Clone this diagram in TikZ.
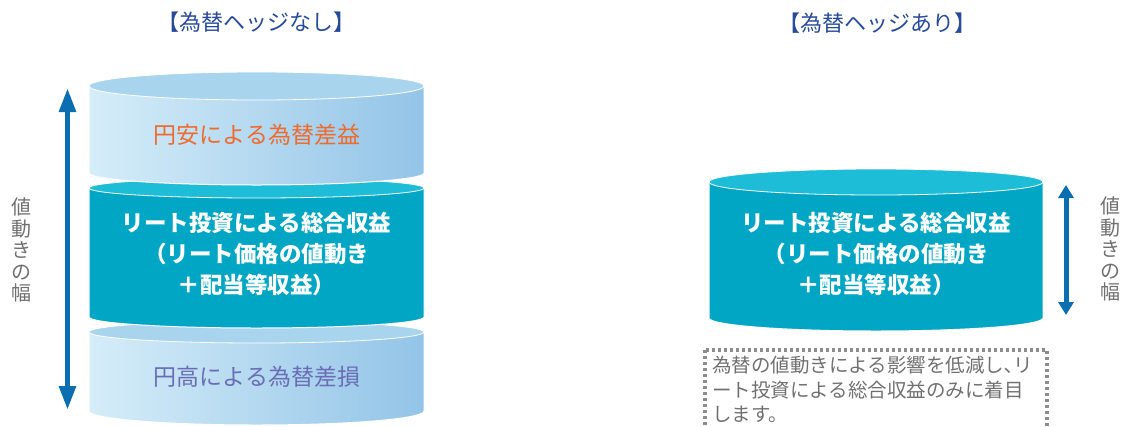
\documentclass[tikz,border=0pt]{standalone}
\usepackage{fontspec}
\setmainfont{Noto Sans CJK JP}
\usetikzlibrary{arrows.meta}
\definecolor{lightL}{HTML}{D5EDF9}
\definecolor{lightR}{HTML}{93C4E7}
\definecolor{lightTop}{HTML}{A9D4EE}
\definecolor{tealBody}{HTML}{00A6C4}
\definecolor{tealTop}{HTML}{1DBDD7}
\definecolor{gainC}{HTML}{EE6A2E}
\definecolor{lossC}{HTML}{6A6DB5}
\definecolor{titleC}{HTML}{274A9B}
\definecolor{arrC}{HTML}{0A6EB0}
\definecolor{grayT}{HTML}{707070}
\definecolor{dotC}{HTML}{8C8C8C}
\newcommand\mycyl[8]{%
  \path[#7,draw=white,line width=1pt] ({#1-#2},#3) -- ({#1-#2},#5)
    arc[start angle=180,end angle=360,x radius=#2pt,y radius=#6pt] -- ({#1+#2},#3) -- cycle;
  \path[fill=#8,draw=white,line width=0.8pt] (#1,#3) ellipse[x radius=#2pt,y radius=#4pt];
}
\begin{document}
\begin{tikzpicture}[x=1pt,y=-1pt,
  title/.style={text=titleC,font=\fontsize{22}{25}\selectfont,inner sep=0pt},
  midtext/.style={text=white,font=\bfseries\fontsize{22.5}{31}\selectfont,align=center,inner sep=0pt},
  fxtext/.style={font=\fontsize{23}{27}\selectfont,inner sep=0pt},
  vtext/.style={text=grayT,font=\fontsize{20}{21.5}\selectfont,align=center,inner sep=0pt},
  arrL/.style={draw=arrC,line width=5.5pt,{Triangle[width=16pt,length=24pt]}-{Triangle[width=16pt,length=24pt]}},
  arrR/.style={draw=arrC,line width=5pt,{Triangle[width=15pt,length=13pt]}-{Triangle[width=15pt,length=13pt]}},
  dotbox/.style={draw=dotC,line width=3.2pt,dash pattern=on 3pt off 3pt},
  notetext/.style={text=grayT,font=\fontsize{19.5}{24.5}\selectfont,align=left,anchor=north west,inner sep=0pt}
]
\useasboundingbox (0,0) rectangle (1129,426);

% left stack (bottom, middle, top)
\mycyl{256.5}{167.5}{332}{11}{411}{14}{left color=lightL,right color=lightR}{lightTop}
\mycyl{256.5}{167.5}{188}{10}{317}{11}{fill=tealBody}{tealTop}
\mycyl{256.5}{167.5}{86}{14}{173}{12}{left color=lightL,right color=lightR}{lightTop}

% right cylinder
\mycyl{876}{167}{182}{13}{318}{13}{fill=tealBody}{tealTop}

% titles
\node[title] (t1) at (256,22) {【為替ヘッジなし】};
\node[title] (t2) at (877,23) {【為替ヘッジあり】};

% texts on cylinders
\node[fxtext,text=gainC] (gain) at (257,135) {円安による為替差益};
\node[midtext] (mid1) at (256.5,254) {リート投資による総合収益\\（リート価格の値動き\\＋配当等収益）};
\node[fxtext,text=lossC] (loss) at (257,377) {円高による為替差損};
\node[midtext] (mid2) at (876,254) {リート投資による総合収益\\（リート価格の値動き\\＋配当等収益）};

% arrows
\coordinate (a1t) at (67.5,88);
\coordinate (a1b) at (67.5,410);
\draw[arrL] (a1b) -- (a1t);
\coordinate (a2t) at (1066,185);
\coordinate (a2b) at (1066,315);
\draw[arrR] (a2b) -- (a2t);

% vertical labels
\node[vtext] (v1) at (22,250) {値\\動\\き\\の\\幅};
\node[vtext] (v2) at (1110,249) {値\\動\\き\\の\\幅};

% note box
\coordinate (boxA) at (705,350);
\coordinate (boxB) at (1047,436);
\draw[dotbox] (boxA) rectangle (boxB);
\node[notetext] (note) at (712,356) {為替の値動きによる影響を低減し､リ\\ート投資による総合収益のみに着目\\します。};
\end{tikzpicture}
\end{document}
